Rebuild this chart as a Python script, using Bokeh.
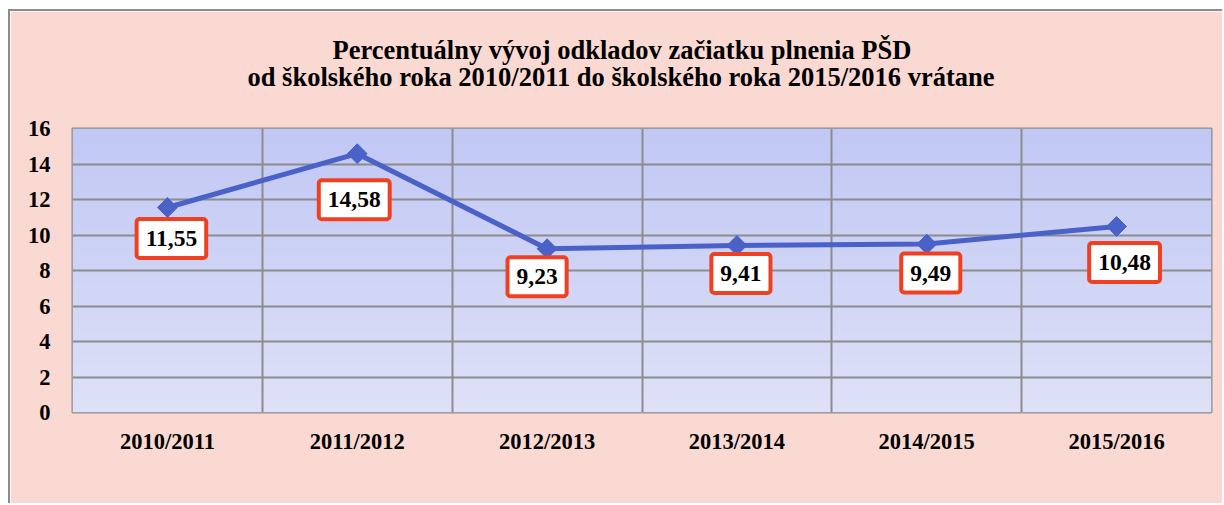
import numpy as np
from bokeh.plotting import figure
from bokeh.models import Range1d, FixedTicker, Label, Title
from bokeh.embed import file_html
from bokeh.resources import INLINE

categories = ["2010/2011", "2011/2012", "2012/2013", "2013/2014", "2014/2015", "2015/2016"]
values = [11.55, 14.58, 9.23, 9.41, 9.49, 10.48]
y_ticks = [0, 2, 4, 6, 8, 10, 12, 14, 16]
title_lines = ["Percentuálny vývoj odkladov začiatku plnenia PŠD",
               "od školského roka 2010/2011 do školského roka 2015/2016 vrátane"]

# label box offsets (screen px) relative to each point
label_dx = [4, -3, -10, 4, 4, 8]
label_dy = [31, 46, 28, 28, 29, 36]
# title placement (line 1, line 2): standoff and left offset in px
title_standoff = [-84, 74]
title_offset = [260, 175]

FONT = "Liberation Serif"
n = len(categories)

p = figure(width=1214, height=494, output_backend="svg", toolbar_location=None,
           x_range=Range1d(-0.5, n - 0.5), y_range=Range1d(y_ticks[0], y_ticks[-1]),
           min_border_left=62, min_border_right=13, min_border_top=117, min_border_bottom=93,
           styles={"margin-left": "8px", "margin-top": "9px",
                   "border-left": "2px solid #8c8c8c", "border-top": "2px solid #8c8c8c"})
p.title = None

# first added is closest to the plot
for idx in (1, 0):
    p.add_layout(Title(text=title_lines[idx], align="left", offset=title_offset[idx],
                       standoff=title_standoff[idx],
                       text_font=FONT, text_font_style="bold", text_font_size="26.5px",
                       text_color="black"), "above")

p.border_fill_color = "#FBD9D3"
p.background_fill_color = "#D0D5F6"
p.outline_line_color = "#8c8c8c"
p.outline_line_width = 2

# gradient background of plot area
rows = 64
top = np.array([0xC1, 0xC8, 0xF4], dtype=float)
bot = np.array([0xDE, 0xE1, 0xF8], dtype=float)
t = np.linspace(0, 1, rows)[:, None]
cols = bot * (1 - t) + top * t
img = np.zeros((rows, 1), dtype=np.uint32)
view = img.view(dtype=np.uint8).reshape((rows, 1, 4))
view[:, 0, 0] = cols[:, 0].astype(np.uint8)
view[:, 0, 1] = cols[:, 1].astype(np.uint8)
view[:, 0, 2] = cols[:, 2].astype(np.uint8)
view[:, 0, 3] = 255
bg = p.image_rgba(image=[img], x=-0.5, y=y_ticks[0], dw=n, dh=y_ticks[-1] - y_ticks[0])
bg.level = "image"

# axes
p.xaxis.ticker = FixedTicker(ticks=list(range(n)))
p.xaxis.major_label_overrides = {i: c for i, c in enumerate(categories)}
p.yaxis.ticker = FixedTicker(ticks=y_ticks)
for ax in (p.xaxis[0], p.yaxis[0]):
    ax.axis_line_color = None
    ax.major_tick_line_color = None
    ax.minor_tick_line_color = None
    ax.major_label_text_font = FONT
    ax.major_label_text_font_style = "bold"
    ax.major_label_text_color = "black"
p.xaxis.major_label_text_font_size = "22.5px"
p.yaxis.major_label_text_font_size = "22.5px"
p.xaxis.major_label_standoff = 10
p.yaxis.major_label_standoff = 16

p.xgrid.ticker = FixedTicker(ticks=[i - 0.5 for i in range(n + 1)])
p.ygrid.ticker = FixedTicker(ticks=y_ticks)
for g in (p.xgrid[0], p.ygrid[0]):
    g.grid_line_color = "#8c8c8c"
    g.grid_line_width = 2

xs = list(range(n))
p.line(xs, values, line_color="#4A62C8", line_width=5)
p.scatter(xs, values, marker="square", angle=np.pi / 4, size=14,
          fill_color="#4A62C8", line_color="#4A62C8")

for i, v in enumerate(values):
    p.add_layout(Label(x=i, y=v, text=f"{v:.2f}".replace(".", ","),
                       x_offset=label_dx[i], y_offset=-label_dy[i],
                       text_align="center", text_baseline="middle",
                       text_font=FONT, text_font_style="bold", text_font_size="23.5px",
                       text_color="black",
                       background_fill_color="white",
                       border_line_color="#EF4122", border_line_width=4,
                       padding=dict(left=9, right=9, top=12, bottom=12), border_radius=3))

open("out.html", "w").write(file_html(p, INLINE))
